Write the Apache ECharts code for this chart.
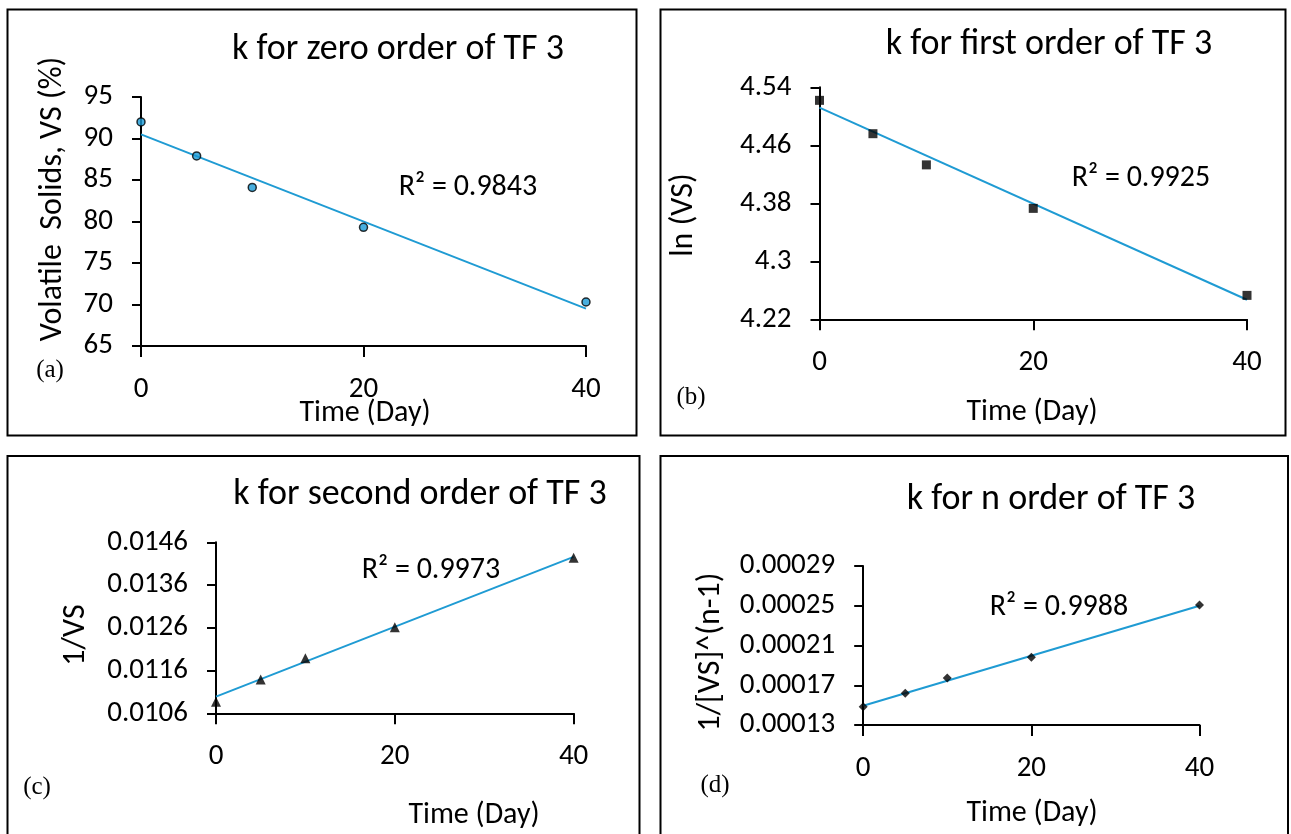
<!DOCTYPE html>
<html>
<head>
<meta charset="utf-8">
<script src="https://cdn.jsdelivr.net/npm/echarts@6/dist/echarts.min.js"></script>
<style>
  html, body { margin: 0; padding: 0; background: #fff; }
  #chart { width: 1291px; height: 834px; }
</style>
</head>
<body>
<div id="chart"></div>
<script>
// sampling days
const days = [0, 5, 10, 20, 40]
// measured values for TF 3
const vsZero = [92.0, 87.9, 84.1, 79.3, 70.3]
const lnVs = [4.522, 4.476, 4.433, 4.373, 4.253]
const invVs = [0.01087, 0.01139, 0.01189, 0.01261, 0.01424]
const invVsN = [0.0001484, 0.0001619, 0.0001773, 0.0001981, 0.0002508]
// linear trendline ends (day 0 and day 40)
const trendDays = [0, 40]
const trendZero = [90.5, 69.5]
const trendFirst = [4.512, 4.247]
const trendSecond = [0.01099, 0.01426]
const trendN = [0.0001494, 0.00025]
const r2 = ['0.9843', '0.9925', '0.9973', '0.9988']
// tick labels
const dayTicks = [0, 20, 40]
const ticksZero = [65, 70, 75, 80, 85, 90, 95]
const ticksFirst = [4.22, 4.3, 4.38, 4.46, 4.54]
const ticksSecond = [0.0106, 0.0116, 0.0126, 0.0136, 0.0146]
const ticksN = [0.00013, 0.00017, 0.00021, 0.00025, 0.00029]

const FONT = 'Carlito, Lato, sans-serif'
const TREND = '#1f9bd3'
const INK = '#000'

const pairs = (xs, ys) => xs.map((x, i) => [x, ys[i]])

// panel layout: grid in pixels
const panels = [
  { grid: { left: 141, top: 97, width: 445, height: 249 }, ticks: ticksZero, ys: vsZero, trend: trendZero,
    symbol: 'circle', size: 8, fill: '#1a9ad6' },
  { grid: { left: 819.5, top: 87.3, width: 427.5, height: 232 }, ticks: ticksFirst, ys: lnVs, trend: trendFirst,
    symbol: 'rect', size: 9, fill: '#000' },
  { grid: { left: 216, top: 542.3, width: 357.6, height: 171 }, ticks: ticksSecond, ys: invVs, trend: trendSecond,
    symbol: 'triangle', size: 10, fill: '#000' },
  { grid: { left: 863.2, top: 566, width: 336.3, height: 159 }, ticks: ticksN, ys: invVsN, trend: trendN,
    symbol: 'diamond', size: 9, fill: '#000' },
]

const axisLine = { lineStyle: { color: '#000', width: 2 } }

const grid = panels.map((p) => p.grid)
const xAxis = panels.map((p, i) => ({
  type: 'value', gridIndex: i, min: 0, max: 40, interval: 20,
  axisLine: { ...axisLine, onZero: false },
  axisTick: { length: 11, lineStyle: { color: '#000', width: 2 } },
  axisLabel: { margin: 29, fontSize: 29, color: INK, fontFamily: FONT, customValues: dayTicks },
  splitLine: { show: false },
}))
const yAxis = panels.map((p, i) => ({
  type: 'value', gridIndex: i, min: p.ticks[0], max: p.ticks[p.ticks.length - 1],
  axisLine: { show: true, ...axisLine, onZero: false },
  axisTick: { show: true, length: 9, lineStyle: { color: '#000', width: 2 }, customValues: p.ticks },
  axisLabel: { margin: 28, fontSize: 29, color: INK, fontFamily: FONT, customValues: p.ticks },
  splitLine: { show: false },
}))

const series = []
panels.forEach((p, i) => {
  series.push({
    type: 'line', xAxisIndex: i, yAxisIndex: i, data: pairs(trendDays, p.trend),
    showSymbol: false, lineStyle: { color: TREND, width: 2 }, z: 2, silent: true,
  })
  series.push({
    type: 'scatter', xAxisIndex: i, yAxisIndex: i, data: pairs(days, p.ys),
    symbol: p.symbol, symbolSize: p.size, z: 3,
    itemStyle: { color: p.fill, borderColor: '#000', borderWidth: i === 0 ? 1.5 : 0 },
  })
})

const titles = [
  { text: 'k for zero order of TF 3', x: 398, y: 50 },
  { text: 'k for first order of TF 3', x: 1049, y: 45 },
  { text: 'k for second order of TF 3', x: 420, y: 495 },
  { text: 'k for n order of TF 3', x: 1051, y: 500 },
]

const txt = (text, x, y, size, extra) => ({
  type: 'text', x, y, z: 10,
  style: { text, fontSize: size, fontFamily: FONT, fill: INK, textAlign: 'center', textVerticalAlign: 'middle', ...extra },
})
const vtxt = (text, x, y, size) => ({ ...txt(text, x, y, size), rotation: Math.PI / 2 })
const letter = (text, x, y) => txt(text, x, y, 25, { fontFamily: '"Liberation Serif", serif' })
const box = (x, y, w, h) => ({
  type: 'rect', shape: { x, y, width: w, height: h }, z: 0,
  style: { fill: 'none', stroke: '#000', lineWidth: 2 },
})

const graphic = [
  box(7.5, 9.5, 629, 426),
  box(660.5, 9.5, 625, 426),
  box(7.5, 456, 632, 400),
  box(660.5, 456, 627.5, 400),
  ...titles.map((t) => txt(t.text, t.x, t.y, 36)),
  txt('R² = ' + r2[0], 468, 187, 30),
  txt('R² = ' + r2[1], 1141, 178, 30),
  txt('R² = ' + r2[2], 431, 570, 30),
  txt('R² = ' + r2[3], 1059, 607, 30),
  vtxt('Volatile  Solids, VS (%)', 53, 199, 32),
  vtxt('ln (VS)', 684, 215, 32),
  vtxt('1/VS', 76, 635, 32),
  vtxt('1/[VS]^(n-1)', 711, 652, 32),
  txt('Time (Day)', 365, 413, 30),
  txt('Time (Day)', 1032, 412, 30),
  txt('Time (Day)', 474, 815, 30),
  txt('Time (Day)', 1032, 813, 30),
  letter('(a)', 50, 370),
  letter('(b)', 691, 397),
  letter('(c)', 37, 787),
  letter('(d)', 715, 785),
]

const chart = echarts.init(document.getElementById('chart'))
chart.setOption({
  animation: false,
  backgroundColor: '#fff',
  grid, xAxis, yAxis, series, graphic,
})
</script>
</body>
</html>
